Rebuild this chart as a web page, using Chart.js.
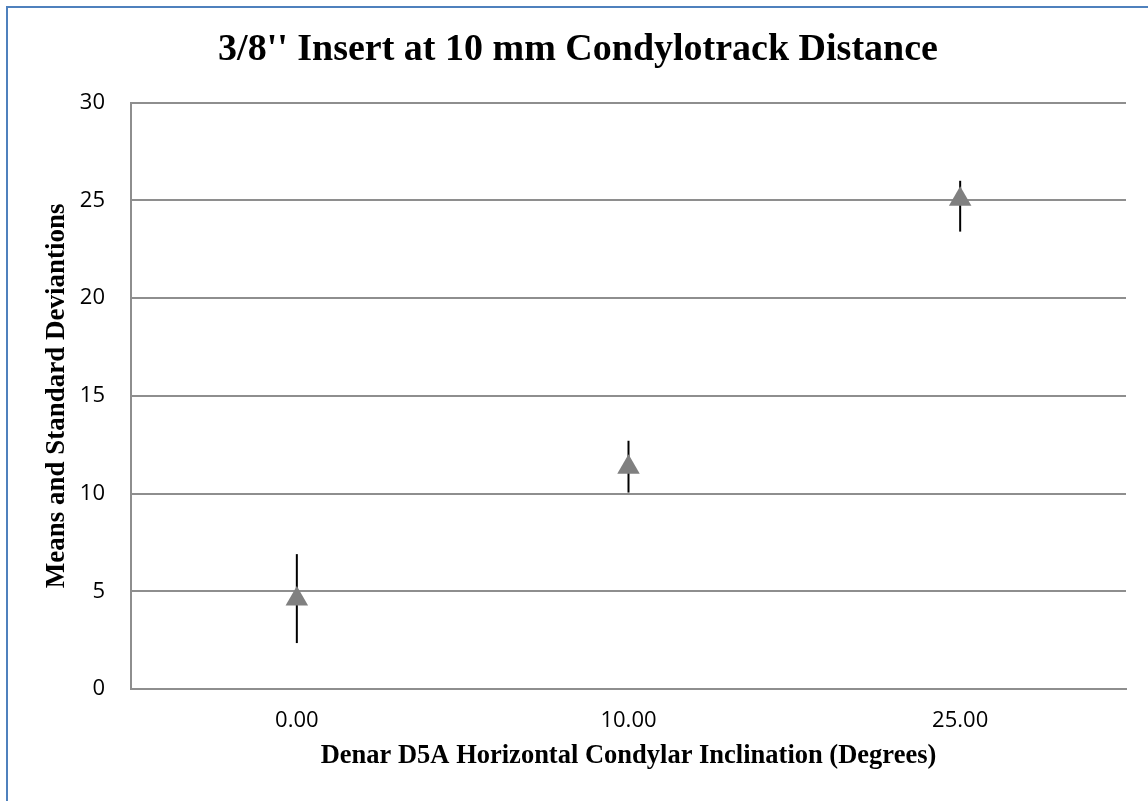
<!DOCTYPE html>
<html>
<head>
<meta charset="utf-8">
<script src="https://cdn.jsdelivr.net/npm/chart.js@4.4.1/dist/chart.umd.min.js"></script>
<style>
  html, body { margin: 0; padding: 0; background: #fff; }
  #wrap { position: relative; width: 1148px; height: 801px; overflow: hidden; }
  canvas { position: absolute; left: 0; top: 0; }
  #frame { position: absolute; left: 6px; top: 6px; width: 1200px; height: 900px;
           border-left: 2px solid #4F81BD; border-top: 2px solid #4F81BD; pointer-events: none; }
</style>
</head>
<body>
<div id="wrap">
  <canvas id="c" width="1148" height="801"></canvas>
  <div id="frame"></div>
</div>
<script>
const categories = ['0.00', '10.00', '25.00'];
const means = [4.6, 11.35, 25.05];
const errPlus = [2.3, 1.35, 0.95];
const errMinus = [2.25, 1.3, 1.65];
const yTicks = [0, 5, 10, 15, 20, 25, 30];

const chartTitle = "3/8'' Insert at 10 mm Condylotrack Distance";
const xTitle = 'Denar D5A Horizontal Condylar Inclination (Degrees)';
const yTitle = 'Means and Standard Deviantions';

const errorBars = {
  id: 'errorBars',
  beforeDatasetsDraw(chart) {
    const ctx = chart.ctx;
    const xs = chart.scales.x, ys = chart.scales.y;
    ctx.save();
    ctx.strokeStyle = '#000';
    ctx.lineWidth = 2;
    means.forEach((m, i) => {
      const x = xs.getPixelForValue(i);
      ctx.beginPath();
      ctx.moveTo(x, ys.getPixelForValue(m + errPlus[i]));
      ctx.lineTo(x, ys.getPixelForValue(m - errMinus[i]));
      ctx.stroke();
    });
    ctx.restore();
  }
};

new Chart(document.getElementById('c'), {
  type: 'line',
  data: {
    labels: categories,
    datasets: [{
      data: means,
      showLine: false,
      pointStyle: 'triangle',
      pointRadius: 13,
      pointHoverRadius: 13,
      pointBackgroundColor: '#808080',
      pointBorderColor: '#808080',
      pointBorderWidth: 0
    }]
  },
  plugins: [errorBars],
  options: {
    responsive: false,
    animation: false,
    events: [],
    layout: { padding: { left: 30, right: 22, top: 0, bottom: 0 } },
    plugins: {
      legend: { display: false },
      tooltip: { enabled: false },
      title: {
        display: true,
        text: chartTitle,
        color: '#000',
        font: { family: '"Liberation Serif", "Times New Roman", serif', size: 38, weight: 'bold', lineHeight: 1.2 },
        padding: { top: 27, bottom: 30 }
      }
    },
    scales: {
      x: {
        type: 'category',
        offset: true,
        afterFit(s) { s.height = 112; },
        grid: { display: false, drawTicks: false },
        border: { display: true, color: '#8e8e8e', width: 2 },
        ticks: { color: '#000', padding: 19, font: { family: '"Open Sans", sans-serif', size: 22 } },
        title: {
          display: true, text: xTitle, color: '#000',
          font: { family: '"Liberation Serif", "Times New Roman", serif', size: 26.5, weight: 'bold', lineHeight: 1.2 },
          padding: { top: 0, bottom: 29 }
        }
      },
      y: {
        min: 0, max: 30,
        afterFit(s) { s.width = 101; },
        afterBuildTicks(s) { s.ticks = yTicks.map(v => ({ value: v })); },
        grid: { color: '#8e8e8e', lineWidth: 2, drawTicks: false },
        border: { display: true, color: '#8e8e8e', width: 2 },
        ticks: { color: '#000', padding: 26, font: { family: '"Open Sans", sans-serif', size: 22 } },
        title: {
          display: true, text: yTitle, color: '#000',
          font: { family: '"Liberation Serif", "Times New Roman", serif', size: 27, weight: 'bold', lineHeight: 1.2 },
          padding: { top: 11, bottom: 0 }
        }
      }
    }
  }
});
</script>
</body>
</html>
